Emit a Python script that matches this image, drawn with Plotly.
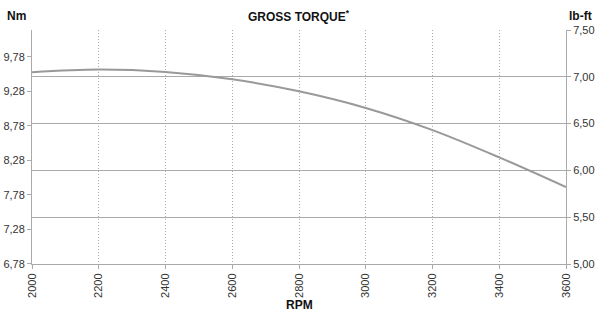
import plotly.graph_objects as go

rpm = [2000, 2200, 2400, 2600, 2800, 3000, 3200, 3400, 3600]
torque_nm = [9.556, 9.595, 9.560, 9.454, 9.280, 9.039, 8.718, 8.323, 7.893]

nm_ticks = [6.78, 7.28, 7.78, 8.28, 8.78, 9.28, 9.78]
lbft_ticks = [5.0, 5.5, 6.0, 6.5, 7.0, 7.5]
rpm_ticks = [2000, 2200, 2400, 2600, 2800, 3000, 3200, 3400, 3600]

NM_PER_LBFT = 1.35582
font = "Liberation Sans, Arial, Helvetica, sans-serif"

W, H = 598, 312
ML, MR, MT, MB = 32, 32, 30, 48
pw, ph = W - ML - MR, H - MT - MB


def px(x):
    return (x - ML) / pw


def py(y):
    return (H - MB - y) / ph


fig = go.Figure()
fig.add_trace(go.Scatter(x=rpm, y=torque_nm, mode="lines", line=dict(color="#999999", width=2, shape="spline"),
                         showlegend=False, hoverinfo="skip"))
fig.add_trace(go.Scatter(x=[], y=[], yaxis="y2", showlegend=False))

axis_common = dict(showline=True, linecolor="#aaaaaa", linewidth=1, ticks="outside", ticklen=4,
                   tickcolor="#aaaaaa", tickfont=dict(family=font, size=11, color="#333333"),
                   zeroline=False, automargin=False)

title_font = dict(family=font, size=12, color="#111111")

fig.update_layout(
    width=W, height=H,
    margin=dict(l=ML, r=MR, t=MT, b=MB),
    paper_bgcolor="white", plot_bgcolor="white",
    separators=",.",
    xaxis=dict(range=[2000, 3600], tickvals=rpm_ticks, tickangle=-90, showgrid=True, gridcolor="#aaaaaa",
               griddash="1px,2px", gridwidth=1, **axis_common),
    yaxis=dict(range=[5.0 * NM_PER_LBFT, 7.5 * NM_PER_LBFT], tickvals=nm_ticks, tickformat=".2f",
               showgrid=False, **axis_common),
    yaxis2=dict(range=[5.0, 7.5], tickvals=lbft_ticks, tickformat=".2f", overlaying="y", side="right",
                showgrid=True, gridcolor="#aaaaaa", gridwidth=1, **axis_common),
    annotations=[
        dict(text="<b>GROSS TORQUE<sup>*</sup></b>", x=px(299), y=py(16), xref="paper", yref="paper",
             showarrow=False, yanchor="middle", font=title_font),
        dict(text="<b>Nm</b>", x=px(5), y=py(16), xref="paper", yref="paper", xanchor="left",
             yanchor="middle", showarrow=False, font=title_font),
        dict(text="<b>lb-ft</b>", x=px(594), y=py(16), xref="paper", yref="paper", xanchor="right",
             yanchor="middle", showarrow=False, font=title_font),
        dict(text="<b>RPM</b>", x=px(299), y=py(305), xref="paper", yref="paper",
             yanchor="middle", showarrow=False, font=title_font),
    ],
)

fig.write_html("out.html", config={"displayModeBar": False},
               post_script="document.body.style.margin='0px';document.body.style.overflow='hidden';")
